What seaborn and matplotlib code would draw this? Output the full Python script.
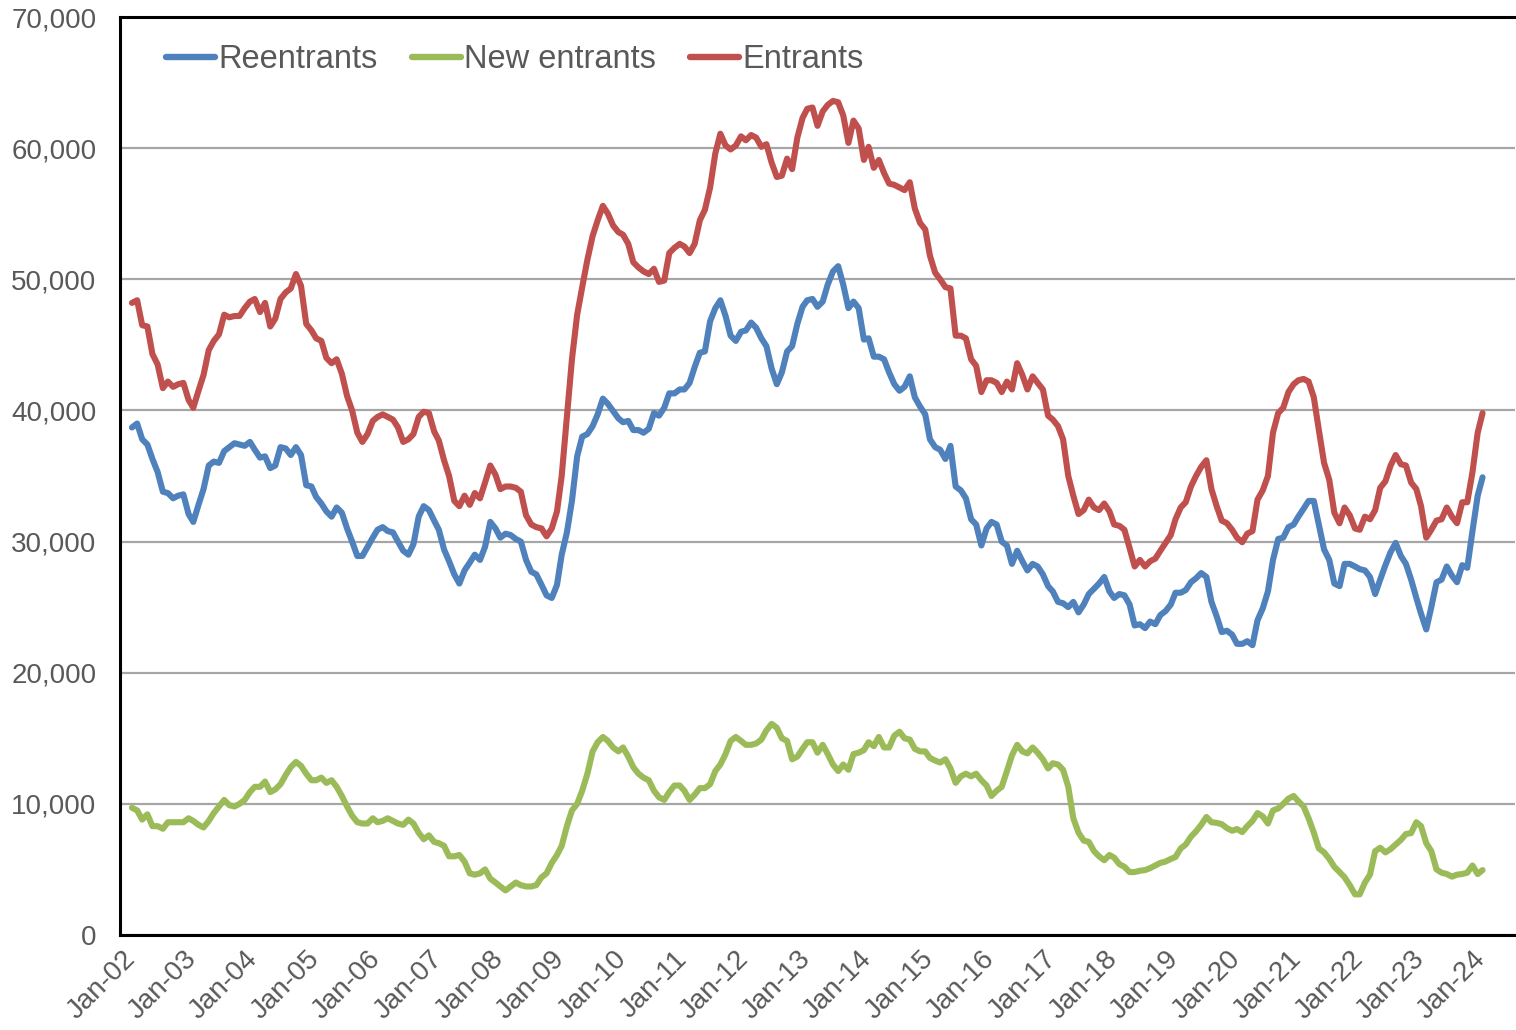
import pandas as pd
import numpy as np
import matplotlib
matplotlib.use("Agg")
import matplotlib.pyplot as plt
import matplotlib.dates as mdates
import seaborn as sns
from matplotlib.ticker import FuncFormatter

# ------------------------------------------------------------------
# Data: monthly values, Mar-2002 .. Mar-2024
# ------------------------------------------------------------------
START = "2002-03-01"

reentrants = [
    38700, 39000, 37800, 37400, 36300, 35300, 33800, 33700, 33300, 33500,
    33600, 32100, 31500, 32800, 34000, 35800, 36100, 36000, 36900, 37200,
    37500, 37400, 37300, 37600, 37000, 36400, 36500, 35600, 35800, 37200,
    37100, 36600, 37200, 36600, 34300, 34200, 33400, 32900, 32300, 31900,
    32600, 32200, 31000, 30000, 28900, 28900, 29600, 30300, 30900, 31100,
    30800, 30700, 30000, 29300, 29000, 29800, 31900, 32700, 32400, 31600,
    30900, 29400, 28500, 27500, 26800, 27800, 28400, 29000, 28600, 29600,
    31500, 31000, 30300, 30600, 30500, 30200, 30000, 28600, 27700, 27500,
    26700, 25900, 25700, 26700, 29000, 30700, 33100, 36500, 38000, 38200,
    38800, 39700, 40900, 40500, 39950, 39400, 39100, 39200, 38500, 38500,
    38300, 38600, 39800, 39600, 40200, 41300, 41300, 41600, 41600, 42100,
    43300, 44400, 44500, 46800, 47800, 48400, 47200, 45700, 45300, 46000,
    46100, 46700, 46300, 45500, 44900, 43200, 42000, 42900, 44500, 44900,
    46600, 47900, 48400, 48500, 47900, 48300, 49600, 50600, 51000, 49600,
    47800, 48300, 47800, 45400, 45500, 44100, 44100, 43900, 42900, 42000,
    41500, 41800, 42600, 41000, 40300, 39700, 37800, 37200, 37000, 36300,
    37300, 34200, 33900, 33300, 31700, 31300, 29700, 31000, 31500, 31300,
    30000, 29700, 28300, 29300, 28500, 27800, 28300, 28100, 27500, 26600,
    26200, 25400, 25300, 25000, 25400, 24600, 25200, 26000, 26400, 26800,
    27300, 26200, 25700, 26000, 25900, 25200, 23600, 23700, 23400, 23900,
    23700, 24400, 24700, 25200, 26100, 26100, 26300, 26900, 27200, 27600,
    27300, 25400, 24300, 23100, 23200, 22900, 22200, 22200, 22400, 22100,
    24000, 24900, 26200, 28600, 30200, 30300, 31100, 31300, 31900, 32500,
    33100, 33100, 31300, 29400, 28600, 26800, 26600, 28300, 28300, 28100,
    27900, 27800, 27300, 26000, 27100, 28200, 29200, 29900, 28900, 28300,
    27100, 25700, 24500, 23300, 25000, 26900, 27100, 28100, 27400, 26900,
    28200, 28000, 30800, 33500, 34900,
]

new_entrants = [
    9700, 9500, 8800, 9200, 8300, 8300, 8100, 8600, 8600, 8600,
    8600, 8900, 8700, 8400, 8200, 8700, 9300, 9800, 10300, 9900,
    9800, 10000, 10300, 10900, 11300, 11300, 11700, 10900, 11100, 11500,
    12200, 12800, 13200, 12900, 12300, 11800, 11800, 12000, 11600, 11800,
    11300, 10600, 9800, 9100, 8600, 8500, 8500, 8900, 8600, 8700,
    8900, 8700, 8500, 8400, 8800, 8500, 7800, 7300, 7600, 7100,
    7000, 6800, 6000, 6000, 6100, 5600, 4700, 4600, 4700, 5000,
    4300, 4000, 3700, 3400, 3700, 4000, 3800, 3700, 3700, 3800,
    4400, 4700, 5500, 6100, 6800, 8300, 9500, 10000, 11000, 12300,
    14000, 14700, 15100, 14800, 14300, 14000, 14300, 13600, 12800, 12300,
    12000, 11800, 11000, 10500, 10300, 10900, 11400, 11400, 11000, 10300,
    10700, 11200, 11200, 11500, 12500, 13000, 13800, 14800, 15100, 14800,
    14500, 14500, 14600, 14900, 15600, 16100, 15800, 15000, 14800, 13400,
    13600, 14200, 14700, 14700, 13900, 14500, 13800, 13000, 12500, 13000,
    12600, 13800, 13900, 14100, 14700, 14400, 15100, 14300, 14300, 15200,
    15500, 15000, 14900, 14200, 14000, 14000, 13500, 13300, 13150, 13400,
    12700, 11600, 12100, 12300, 12100, 12300, 11800, 11400, 10600, 11000,
    11300, 12500, 13700, 14500, 14000, 13850, 14300, 13900, 13400, 12700,
    13100, 13000, 12600, 11300, 8900, 7800, 7200, 7100, 6400, 6000,
    5700, 6100, 5900, 5400, 5200, 4800, 4800, 4900, 4950, 5100,
    5300, 5500, 5600, 5800, 5950, 6600, 6900, 7500, 7900, 8400,
    9000, 8600, 8550, 8450, 8150, 7950, 8080, 7850, 8300, 8700,
    9300, 9050, 8500, 9500, 9650, 10000, 10400, 10600, 10200, 9800,
    8900, 7800, 6600, 6300, 5800, 5200, 4800, 4400, 3800, 3100,
    3100, 4000, 4600, 6400, 6650, 6300, 6550, 6900, 7250, 7700,
    7770, 8600, 8300, 7000, 6400, 5000, 4750, 4650, 4450, 4600,
    4650, 4750, 5300, 4650, 4950,
]

entrants = [
    48200, 48400, 46500, 46400, 44300, 43500, 41700, 42200, 41800, 42000,
    42100, 40800, 40200, 41500, 42700, 44600, 45300, 45800, 47300, 47100,
    47200, 47200, 47800, 48300, 48500, 47500, 48200, 46400, 47000, 48500,
    49000, 49300, 50400, 49500, 46600, 46100, 45500, 45300, 44000, 43600,
    43900, 42800, 41100, 40000, 38300, 37600, 38200, 39200, 39500, 39700,
    39500, 39300, 38700, 37600, 37800, 38200, 39500, 39900, 39800, 38400,
    37700, 36200, 35000, 33100, 32700, 33500, 32800, 33700, 33300, 34500,
    35800, 35100, 34000, 34200, 34200, 34100, 33800, 32000, 31300, 31100,
    31000, 30400, 31000, 32300, 35000, 39500, 43900, 47300, 49400, 51500,
    53300, 54500, 55600, 55000, 54100, 53600, 53400, 52700, 51300, 50900,
    50600, 50400, 50800, 49800, 49900, 52000, 52400, 52700, 52500, 52000,
    52700, 54500, 55300, 57000, 59600, 61100, 60200, 59900, 60200, 60900,
    60600, 61000, 60800, 60100, 60300, 58900, 57800, 57900, 59200, 58400,
    60800, 62300, 63000, 63100, 61700, 62800, 63300, 63600, 63500, 62500,
    60400, 62100, 61500, 59100, 60100, 58500, 59100, 58100, 57300, 57200,
    57000, 56800, 57400, 55400, 54300, 53800, 51800, 50500, 50000, 49400,
    49300, 45700, 45700, 45500, 43900, 43400, 41400, 42300, 42300, 42100,
    41400, 42200, 41600, 43600, 42700, 41600, 42600, 42100, 41600, 39600,
    39300, 38800, 37800, 35000, 33500, 32100, 32400, 33200, 32600, 32400,
    32900, 32300, 31300, 31200, 30900, 29500, 28100, 28600, 28100, 28500,
    28700, 29300, 29900, 30500, 31700, 32600, 33000, 34200, 35000, 35700,
    36200, 34000, 32700, 31600, 31400, 30900, 30300, 29950, 30600, 30800,
    33200, 33900, 35000, 38300, 39800, 40200, 41400, 42000, 42300, 42400,
    42200, 41000, 38500, 36000, 34700, 32200, 31400, 32600, 32000, 31000,
    30900, 31900, 31700, 32400, 34100, 34600, 35800, 36600, 35900, 35800,
    34500, 34000, 32700, 30300, 30900, 31600, 31700, 32600, 31900, 31400,
    33000, 33000, 35300, 38300, 39800,
]

SERIES = ["Reentrants", "New entrants", "Entrants"]
COLORS = ["#4F81BD", "#9BBB59", "#C0504D"]

dates = pd.date_range(START, periods=len(entrants), freq="MS")
df = pd.concat([
    pd.DataFrame({"date": dates, "value": reentrants, "series": "Reentrants"}),
    pd.DataFrame({"date": dates, "value": new_entrants, "series": "New entrants"}),
    pd.DataFrame({"date": dates, "value": entrants, "series": "Entrants"}),
], ignore_index=True)

# ------------------------------------------------------------------
# Plot
# ------------------------------------------------------------------
sns.set_style("white")
plt.rcParams["font.family"] = ["Liberation Sans", "DejaVu Sans"]

TICK_COLOR = "#595959"

fig = plt.figure(figsize=(15.16, 10.30), dpi=100)
ax = fig.add_axes([120 / 1516, 1 - 935 / 1030, 1395 / 1516, 918 / 1030])

sns.lineplot(
    data=df, x="date", y="value", hue="series",
    hue_order=SERIES, palette=COLORS,
    linewidth=4.4, ax=ax, legend=True,
)
for line in ax.get_lines():
    line.set_solid_capstyle("round")
    line.set_solid_joinstyle("round")

ax.set_ylim(0, 70000)
ax.set_yticks(np.arange(0, 70001, 10000))
ax.yaxis.set_major_formatter(FuncFormatter(lambda v, p: f"{int(v):,}"))
ax.grid(axis="y", color="#A6A6A6", linewidth=1.6)
ax.grid(axis="x", visible=False)
ax.set_axisbelow(True)

ax.set_xlim(pd.Timestamp("2001-12-20"), pd.Timestamp("2024-09-10"))
ax.set_xticks(pd.date_range("2002-01-01", "2024-01-01", freq="YS"))
ax.xaxis.set_major_formatter(mdates.DateFormatter("%b-%y"))
ax.set_xlabel("")
ax.set_ylabel("")

ax.tick_params(axis="y", length=0, pad=17, labelsize=20, labelcolor=TICK_COLOR)
ax.tick_params(axis="x", length=0, pad=8, labelsize=20, labelcolor=TICK_COLOR)
for lbl in ax.get_xticklabels():
    lbl.set_rotation(45)
    lbl.set_ha("right")
    lbl.set_rotation_mode("anchor")

for side in ["left", "bottom", "top"]:
    ax.spines[side].set_visible(True)
    ax.spines[side].set_color("black")
    ax.spines[side].set_linewidth(2.2)
ax.spines["right"].set_visible(False)

leg = ax.legend(
    loc="upper left", bbox_to_anchor=(0.019, 0.992), ncol=3, frameon=False,
    fontsize=23.5, handlelength=1.5, handletextpad=0.1, columnspacing=1.05,
    borderaxespad=0.2,
)
for h in leg.get_lines():
    h.set_linewidth(4.6)
for t in leg.get_texts():
    t.set_color(TICK_COLOR)

plt.savefig("out.png", dpi=100)
